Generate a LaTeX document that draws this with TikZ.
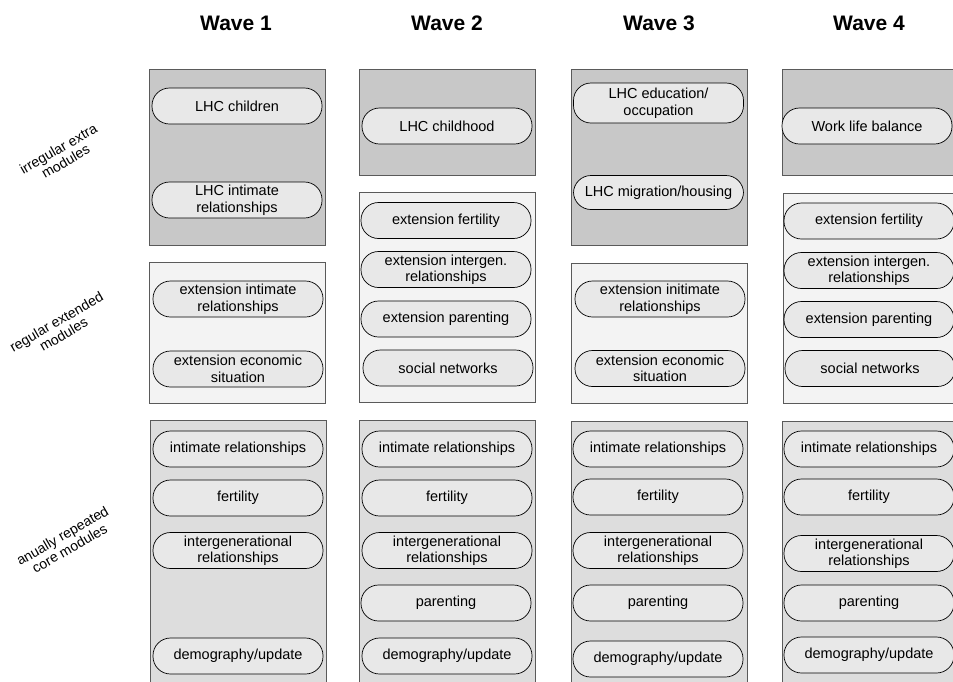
\documentclass[tikz,border=0pt]{standalone}
\usepackage{fontspec}
\setmainfont{Liberation Sans}
\definecolor{topfill}{RGB}{200,200,200}
\definecolor{midfill}{RGB}{243,243,243}
\definecolor{botfill}{RGB}{221,221,221}
\definecolor{pillfill}{RGB}{232,232,232}
\definecolor{boxline}{RGB}{90,90,90}
\begin{document}
\begin{tikzpicture}[x=1pt,y=-1pt,
  wavebox/.style={draw=boxline,line width=0.9pt,minimum width=176pt,inner sep=0pt,anchor=north west},
  topbox/.style={wavebox,fill=topfill},
  midbox/.style={wavebox,fill=midfill},
  botbox/.style={wavebox,fill=botfill},
  pill/.style={draw=black,line width=0.7pt,fill=pillfill,rounded corners=17.5pt,
    minimum width=170pt,minimum height=36pt,inner sep=0pt,align=center,
    font=\fontsize{14.5}{16.5}\selectfont},
  wavehead/.style={font=\fontsize{21}{24}\selectfont\bfseries},
  sidelabel/.style={font=\fontsize{14}{14.5}\selectfont,rotate=30,align=center}
]
\clip (0,0) rectangle (953,681);
\fill[white] (0,0) rectangle (953,681);

% headers
\node[wavehead] (h1) at (236,23) {Wave 1};
\node[wavehead] (h2) at (447,23) {Wave 2};
\node[wavehead] (h3) at (659,23) {Wave 3};
\node[wavehead] (h4) at (869,23) {Wave 4};

% side labels
\node[sidelabel] (l1) at (62,155) {irregular extra\\modules};
\node[sidelabel] (l2) at (60,328) {regular extended\\modules};
\node[sidelabel] (l3) at (66,542) {anually repeated\\core modules};

% boxes
\node[topbox,minimum height=176pt] (t1) at (149,69) {};
\node[midbox,minimum height=141pt] (m1) at (149,262) {};
\node[botbox,minimum height=290pt] (b1) at (150,420) {};

\node[topbox,minimum height=106pt] (t2) at (359,69) {};
\node[midbox,minimum height=210pt] (m2) at (359,192) {};
\node[botbox,minimum height=290pt] (b2) at (359,420) {};

\node[topbox,minimum height=176pt] (t3) at (571,69) {};
\node[midbox,minimum height=140pt] (m3) at (571,263) {};
\node[botbox,minimum height=290pt] (b3) at (571,421) {};

\node[topbox,minimum height=106pt] (t4) at (782,69) {};
\node[midbox,minimum height=210pt] (m4) at (783,193) {};
\node[botbox,minimum height=290pt] (b4) at (782,421) {};

% wave 1
\node[pill] (w1a) at (237,106) {LHC children};
\node[pill] (w1b) at (237,200) {LHC intimate\\relationships};
\node[pill] (w1c) at (238,299) {extension intimate\\relationships};
\node[pill] (w1d) at (238,369) {extension economic\\situation};
\node[pill] (w1e) at (238,449) {intimate relationships};
\node[pill] (w1f) at (238,498) {fertility};
\node[pill] (w1g) at (238,550.5) {intergenerational\\relationships};
\node[pill] (w1h) at (238,656) {demography/update};

% wave 2
\node[pill] (w2a) at (447,126) {LHC childhood};
\node[pill] (w2b) at (446,220.5) {extension fertility};
\node[pill] (w2c) at (446,269.5) {extension intergen.\\relationships};
\node[pill] (w2d) at (446,319) {extension parenting};
\node[pill] (w2e) at (448,368) {social networks};
\node[pill] (w2f) at (447,449) {intimate relationships};
\node[pill] (w2g) at (447,498) {fertility};
\node[pill] (w2h) at (447,550.5) {intergenerational\\relationships};
\node[pill] (w2i) at (446,603) {parenting};
\node[pill] (w2j) at (447,656) {demography/update};

% wave 3
\node[pill,minimum height=40pt] (w3a) at (658.5,103) {LHC education/\\occupation};
\node[pill,minimum height=34pt] (w3b) at (658.5,192.5) {LHC migration/housing};
\node[pill] (w3c) at (660,299) {extension initimate\\relationships};
\node[pill] (w3d) at (660,368.5) {extension economic\\situation};
\node[pill] (w3e) at (658,449) {intimate relationships};
\node[pill] (w3f) at (658,497) {fertility};
\node[pill] (w3g) at (658,550.5) {intergenerational\\relationships};
\node[pill] (w3h) at (658,603) {parenting};
\node[pill] (w3i) at (658,659) {demography/update};

% wave 4
\node[pill] (w4a) at (867,126) {Work life balance};
\node[pill] (w4b) at (869,221) {extension fertility};
\node[pill] (w4c) at (869,270.5) {extension intergen.\\relationships};
\node[pill] (w4d) at (869,319.5) {extension parenting};
\node[pill] (w4e) at (870,368.5) {social networks};
\node[pill] (w4f) at (869,449) {intimate relationships};
\node[pill] (w4g) at (869,497) {fertility};
\node[pill] (w4h) at (869,553.5) {intergenerational\\relationships};
\node[pill] (w4i) at (869,603) {parenting};
\node[pill] (w4j) at (869,655) {demography/update};
\end{tikzpicture}
\end{document}
